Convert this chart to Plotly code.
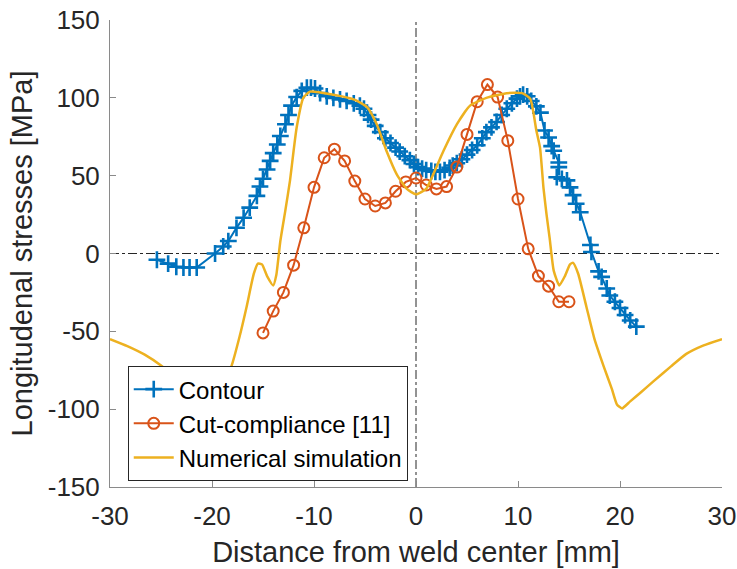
import plotly.graph_objects as go

# ---- data ----
contour_x = [-25.4, -24.3, -23.5, -22.8, -22.2, -21.5,
             -19.7, -18.9, -18.4, -17.6, -16.9, -16.3, -15.6, -15.3, -15.0,
             -14.6, -14.3, -14.0, -13.6, -13.3, -12.8, -12.5, -12.2, -11.7,
             -11.2, -10.7, -10.3, -9.9, -9.4, -8.75, -8.1, -7.45, -6.8, -6.1,
             -5.5, -5.1, -4.7, -4.4, -4.0, -3.5, -3.0, -2.5, -2.0, -1.6, -1.1,
             -0.6, -0.2, 0.2, 0.6, 1.0, 1.5, 1.9, 2.35, 2.8, 3.3, 3.6, 4.0,
             4.5, 5.0, 5.5, 6.0, 6.5, 6.9, 7.4, 7.9, 8.4, 8.9, 9.4, 9.9, 10.2,
             10.5, 10.9, 11.3, 11.8, 12.2, 12.6, 13.0, 13.3, 13.5, 14.0, 14.0,
             13.8, 14.3, 14.8, 15.1, 15.4, 15.7, 16.1, 17.1, 17.2, 17.9, 18.2,
             18.7, 19.0, 19.5, 20.0, 20.5, 21.0, 21.6]
contour_y = [-4, -6.5, -8.5, -9, -9, -9,
             0, 4.5, 8, 16.5, 23, 29.5, 37, 43, 48,
             54, 59.5, 64.5, 70, 75.5, 83, 89, 95, 100.5,
             104.5, 106.5, 106.5, 106, 103, 101, 100, 99, 98, 96.5,
             95, 93, 89, 86, 82, 78, 74, 71, 68, 65.5, 62.5,
             60, 57.5, 55.5, 54.5, 53.5, 53, 52.5, 52.5, 53.5, 55, 56.5, 58,
             60.5, 63.5, 66.5, 69.5, 74, 78, 81, 84.5, 89, 93, 96.5, 99.5, 101,
             102, 101, 98, 94.5, 90.5, 79, 74.5, 69, 66, 58.5, 55.5,
             49, 48, 47, 42.5, 37.5, 32, 26.5, 5.5, 1, -11.5, -15,
             -22.5, -27, -31, -35, -39.5, -43, -47]

cut_x = [-15, -14, -13, -12, -11, -10, -9, -8, -7, -6, -5, -4, -3, -2, -1, 0,
         1, 2, 3, 4, 5, 6, 7, 8, 9, 10, 11, 12, 13, 14, 15]
cut_y = [-51, -37, -25, -7.5, 16.5, 42.5, 61.5, 67, 59.5, 46.5, 35, 30.5, 32.5,
         40, 46, 48.5, 44, 41.5, 43, 55.5, 76.5, 97.5, 108.5, 100.5, 72.5, 35,
         3, -14.5, -21, -31, -31]

sim_x = [-30, -28.3, -26.6, -25.0, -23.3, -22.0, -21.0, -20.2, -19.7, -19.2,
         -18.1, -17.3, -16.6, -15.9, -15.5, -15.1, -14.6, -14.0, -13.7, -13.3,
         -12.8, -12.35, -12.0, -11.7, -11.05, -10.4, -8.1, -6.1, -4.8, -3.85,
         -2.9, -1.9, -0.9, 0, 1, 1.7, 2.7, 4.0, 5.3, 6.9, 8.9, 10.4, 11.2,
         11.8, 12.16, 12.5, 12.8, 13.1, 13.5, 14.05, 14.6, 15.1, 15.4, 15.9,
         16.7, 17.5, 18.4, 19.2, 19.7, 20.2, 21.0, 22.0, 23.3, 25.0, 26.5,
         28.2, 30]
sim_y = [-55, -59.5, -65, -72, -82, -89.5, -95, -99.5, -97, -87,
         -72.5, -53.5, -34, -13, -6.5, -7, -14.5, -20.5, -14, 8,
         28, 47, 66, 81, 100, 104, 102, 99, 94, 83,
         66, 51, 41.5, 38, 41.5, 51, 66, 83, 95, 100, 103, 103, 99.5,
         79, 68, 42, 25, 10, -11, -20.5, -14.5, -7, -6, -13,
         -34, -55, -72.5, -87, -97, -99.5, -95, -89.5, -82, -72.5, -64.5,
         -59, -55]

x_ticks = [-30, -20, -10, 0, 10, 20, 30]
x_tick_labels = ["-30", "-20", "-10", "0", "10", "20", "30"]
y_ticks = [-150, -100, -50, 0, 50, 100, 150]
y_tick_labels = ["-150", "-100", "-50", "0", "50", "100", "150"]

BLUE = "#0072BD"
ORANGE = "#D95319"
YELLOW = "#EDB120"
TXT = "#262626"
AX = "#8a8a8a"
FONT = "Liberation Sans, Arial, Helvetica, sans-serif"

fig = go.Figure()
fig.add_trace(go.Scatter(
    x=contour_x, y=contour_y, mode="lines+markers", name="Contour",
    line=dict(color=BLUE, width=2),
    marker=dict(symbol="cross-thin", size=12, line=dict(color=BLUE, width=2.6))))
fig.add_trace(go.Scatter(
    x=cut_x, y=cut_y, mode="lines+markers", name="Cut-compliance [11]",
    line=dict(color=ORANGE, width=2),
    marker=dict(symbol="circle-open", size=11, color=ORANGE,
                line=dict(color=ORANGE, width=2))))
fig.add_trace(go.Scatter(
    x=sim_x, y=sim_y, mode="lines", name="Numerical simulation",
    line=dict(color=YELLOW, width=2.5, shape="spline", smoothing=0.5)))

fig.add_shape(type="line", x0=-30, x1=30, y0=0, y1=0, layer="below",
              line=dict(color=TXT, width=1, dash="dashdot"))
fig.add_shape(type="line", x0=0, x1=0, y0=-150, y1=150, layer="below",
              line=dict(color=TXT, width=1, dash="dashdot"))

fig.update_layout(
    width=737, height=569,
    margin=dict(l=110, r=15, t=20, b=82, autoexpand=False),
    paper_bgcolor="white", plot_bgcolor="white",
    font=dict(family=FONT, color=TXT),
    showlegend=True,
    legend=dict(x=0.029, y=0.259, xanchor="left", yanchor="top",
                bgcolor="white", bordercolor=TXT, borderwidth=1,
                font=dict(size=24, color="black", family=FONT),
                tracegroupgap=0, itemwidth=40),
    xaxis=dict(range=[-30, 30], tickvals=x_ticks, ticktext=x_tick_labels,
               ticks="inside", ticklen=6, tickcolor=AX, showline=True,
               linecolor=AX, linewidth=1, showgrid=False, zeroline=False,
               automargin=False,
               tickfont=dict(size=26, color=TXT), ticklabelstandoff=6,
               title=dict(text="Distance from weld center [mm]",
                          font=dict(size=29, color=TXT), standoff=11)),
    yaxis=dict(range=[-150, 150], tickvals=y_ticks, ticktext=y_tick_labels,
               ticks="inside", ticklen=6, tickcolor=AX, showline=True,
               linecolor=AX, linewidth=1, showgrid=False, zeroline=False,
               automargin=False,
               tickfont=dict(size=26, color=TXT), ticklabelstandoff=4,
               title=dict(text="Longitudenal stresses [MPa]",
                          font=dict(size=29, color=TXT), standoff=6)),
)

fig.write_html("out.html",
               config={"displayModeBar": False},
               post_script="document.body.style.margin='0px';"
                           "document.body.style.overflow='hidden';")
